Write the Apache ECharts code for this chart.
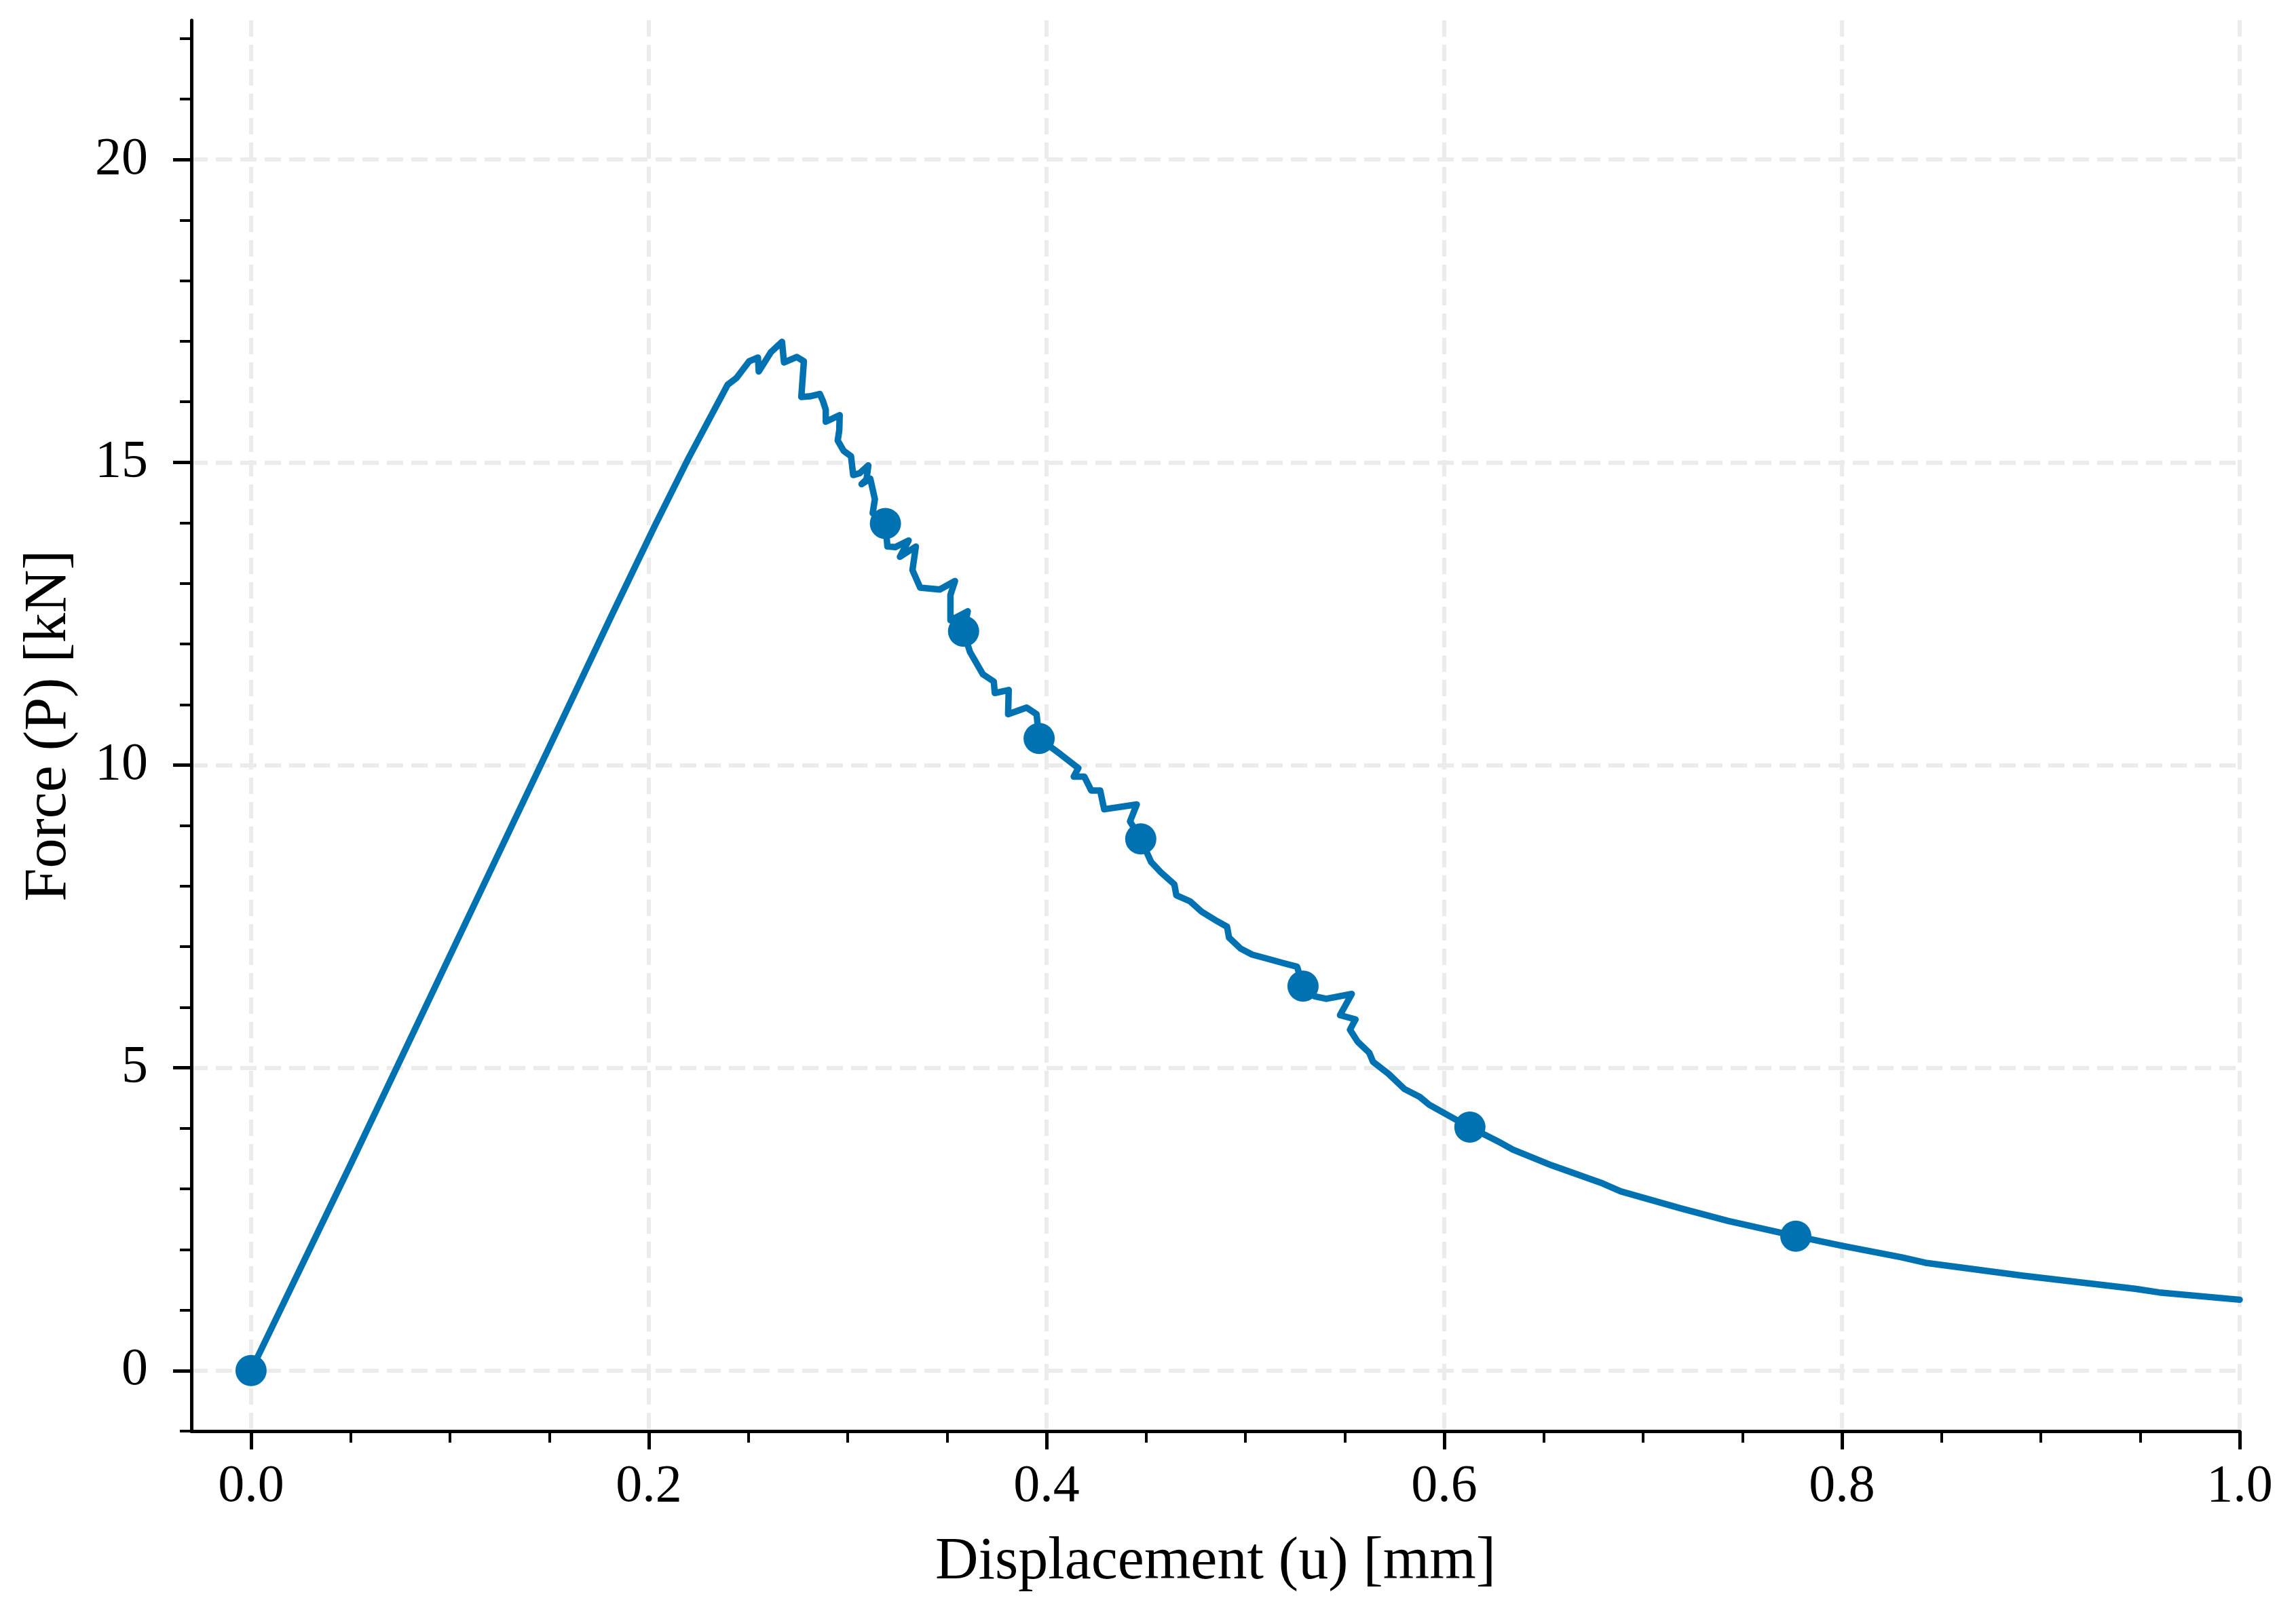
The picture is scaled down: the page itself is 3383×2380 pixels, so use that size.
<!DOCTYPE html>
<html>
<head>
<meta charset="utf-8">
<title>Force vs Displacement</title>
<script src="https://cdn.jsdelivr.net/npm/echarts@6/dist/echarts.min.js"></script>
<style>
  html, body { margin: 0; padding: 0; background: #fff; }
  #main { width: 3383px; height: 2380px; }
</style>
</head>
<body>
<div id="main"></div>
<script>
// 曲线数据 (位移 mm, 力 kN)
const dispU = [
  0, 0.05, 0.10, 0.15, 0.181, 0.2027, 0.22, 0.2396, 0.244, 0.2505, 0.2549, 0.2553, 0.2614,
  0.267, 0.268, 0.2744, 0.278, 0.2767, 0.281, 0.286, 0.2875, 0.289, 0.289, 0.296, 0.2958,
  0.295, 0.298, 0.3017, 0.3028, 0.306, 0.3104, 0.3095, 0.307, 0.3114, 0.3137, 0.3126, 0.319,
  0.320, 0.324, 0.3307, 0.3263, 0.3343, 0.3326, 0.3365, 0.3463, 0.354, 0.3517, 0.3517, 0.3604,
  0.3583, 0.3615, 0.368, 0.3735, 0.374, 0.381, 0.3807, 0.39, 0.395, 0.3963, 0.407, 0.416,
  0.4137, 0.419, 0.4225, 0.427, 0.429, 0.4454, 0.442, 0.4474, 0.4526, 0.4575, 0.4643, 0.4653,
  0.4722, 0.478, 0.4859, 0.4908, 0.4918, 0.4976, 0.5034, 0.5113, 0.519, 0.526, 0.529, 0.535,
  0.5407, 0.5535, 0.5476, 0.5554, 0.5526, 0.5565, 0.5623, 0.5642, 0.572, 0.58, 0.5877, 0.5925,
  0.6055, 0.6129, 0.6285, 0.6345, 0.654, 0.6797, 0.6887, 0.7188, 0.7429, 0.7768, 0.8, 0.83,
  0.842, 0.8904, 0.9474, 0.9596, 1.0
];
const forceP = [
  0, 3.4, 6.85, 10.3, 12.45, 13.93, 15.07, 16.28, 16.39, 16.67, 16.73, 16.5, 16.82,
  16.99, 16.65, 16.74, 16.67, 16.08, 16.09, 16.13, 16.02, 15.87, 15.67, 15.78, 15.53,
  15.36, 15.19, 15.1, 14.79, 14.82, 14.95, 14.72, 14.64, 14.73, 14.39, 14.16, 13.99,
  13.61, 13.6, 13.71, 13.44, 13.61, 13.22, 12.93, 12.9, 13.04, 12.81, 12.39, 12.54,
  12.21, 11.87, 11.5, 11.38, 11.19, 11.24, 10.84, 10.95, 10.84, 10.44, 10.18, 9.95,
  9.81, 9.81, 9.58, 9.58, 9.27, 9.35, 9.07, 8.78, 8.4, 8.23, 8.03, 7.85,
  7.75, 7.58, 7.42, 7.33, 7.15, 6.97, 6.87, 6.8, 6.73, 6.67, 6.35, 6.18,
  6.14, 6.22, 5.87, 5.8, 5.63, 5.43, 5.25, 5.1, 4.9, 4.65, 4.52, 4.39,
  4.15, 4.02, 3.76, 3.65, 3.39, 3.09, 2.96, 2.68, 2.47, 2.22, 2.06, 1.87,
  1.78, 1.57, 1.35, 1.29, 1.17
];

// 标记点
const markerU = [0, 0.319, 0.3583, 0.3963, 0.4474, 0.529, 0.6129, 0.7768];
const markerP = [0, 13.99, 12.21, 10.44, 8.78, 6.35, 4.02, 2.22];

// 刻度
const xMajorTicks = [0, 0.2, 0.4, 0.6, 0.8, 1.0];
const xMinorTicks = [0.05, 0.1, 0.15, 0.25, 0.3, 0.35, 0.45, 0.5, 0.55, 0.65, 0.7, 0.75, 0.85, 0.9, 0.95];
const yMajorTicks = [0, 5, 10, 15, 20];
const yMinorTicks = [-1, 1, 2, 3, 4, 6, 7, 8, 9, 11, 12, 13, 14, 16, 17, 18, 19, 21, 22];

const fontFamily = '"Liberation Serif", "DejaVu Serif", serif';
const lineColor = '#0072B2';

const chart = echarts.init(document.getElementById('main'));

const gridLine = { show: true, lineStyle: { color: '#ebebeb', width: 6, type: [24, 12] } };

const option = {
  animation: false,
  backgroundColor: '#fff',
  grid: { left: 282, right: 83, top: 30, bottom: 271, containLabel: false, outerBoundsMode: 'none' },
  xAxis: [
    {
      type: 'value', min: -0.03, max: 1.0, position: 'bottom',
      name: 'Displacement (u) [mm]', nameLocation: 'middle', nameGap: 150,
      nameTextStyle: { fontFamily, fontSize: 88, color: '#000' },
      axisLine: { show: true, onZero: false, lineStyle: { color: '#000', width: 5 } },
      axisTick: { show: true, length: 27, customValues: xMajorTicks, lineStyle: { color: '#000', width: 5 } },
      axisLabel: { customValues: xMajorTicks, margin: 44, fontFamily, fontSize: 78, color: '#000',
        formatter: v => v.toFixed(1) },
      splitLine: gridLine
    },
    {
      // 次刻度
      type: 'value', min: -0.03, max: 1.0, position: 'bottom',
      axisLine: { show: false, onZero: false },
      axisTick: { show: true, length: 17, customValues: xMinorTicks, lineStyle: { color: '#000', width: 4 } },
      axisLabel: { show: false },
      splitLine: { show: false }
    }
  ],
  yAxis: [
    {
      type: 'value', min: -1, max: 22.3, position: 'left',
      name: 'Force (P) [kN]', nameLocation: 'middle', nameGap: 165,
      nameTextStyle: { fontFamily, fontSize: 88, color: '#000' },
      axisLine: { show: true, onZero: false, lineStyle: { color: '#000', width: 5 } },
      axisTick: { show: true, length: 27, customValues: yMajorTicks, lineStyle: { color: '#000', width: 5 } },
      axisLabel: { customValues: yMajorTicks, margin: 64, fontFamily, fontSize: 78, color: '#000' },
      splitLine: gridLine
    },
    {
      // 次刻度
      type: 'value', min: -1, max: 22.3, position: 'left',
      axisLine: { show: false, onZero: false },
      axisTick: { show: true, length: 17, customValues: yMinorTicks, lineStyle: { color: '#000', width: 4 } },
      axisLabel: { show: false },
      splitLine: { show: false }
    }
  ],
  series: [
    {
      type: 'line',
      data: dispU.map((u, i) => [u, forceP[i]]),
      showSymbol: false,
      lineStyle: { color: lineColor, width: 9.5, join: 'round', cap: 'round' },
      z: 3
    },
    {
      type: 'scatter',
      data: markerU.map((u, i) => [u, markerP[i]]),
      symbol: 'circle',
      symbolSize: 46,
      itemStyle: { color: lineColor, opacity: 1 },
      z: 4
    }
  ]
};

chart.setOption(option);
</script>
</body>
</html>
